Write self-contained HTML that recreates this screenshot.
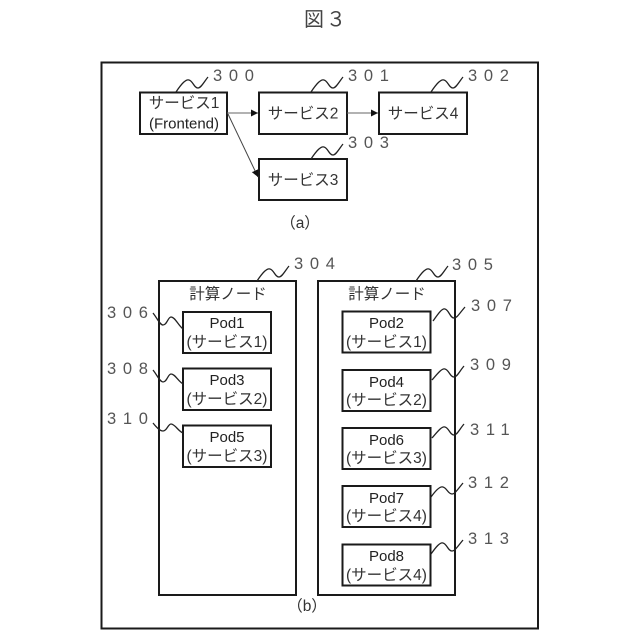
<!DOCTYPE html>
<html><head><meta charset="utf-8"><style>
html,body{margin:0;padding:0;background:#fff}
svg{display:block}
text{font-family:"Liberation Sans","Noto Sans CJK JP",sans-serif;fill:#333;text-anchor:middle}
.t{font-size:15.5px}
.l{font-size:15px;fill:#222}
.n{font-size:16.5px;fill:#555;text-anchor:start;letter-spacing:6.7px}
rect{fill:none;stroke:#1a1a1a;stroke-width:2}
.s{fill:none;stroke:#222;stroke-width:1.3}
</style></head><body>
<svg width="640" height="640" viewBox="0 0 640 640" xmlns="http://www.w3.org/2000/svg">
<defs><marker id="a" markerUnits="userSpaceOnUse" markerWidth="8" markerHeight="8" refX="7" refY="3.5" orient="auto"><path d="M0,0L7,3.5L0,7z" fill="#111"/></marker></defs>
<text x="326" y="26" font-size="20" style="letter-spacing:2px;fill:#444">図３</text>
<rect x="101.5" y="62.5" width="436.5" height="566"/>

<rect x="140" y="92.5" width="87" height="41.5"/>
<rect x="259" y="92.5" width="88" height="41.5"/>
<rect x="379" y="92.5" width="88" height="41.5"/>
<rect x="259" y="159" width="88" height="41"/>

<text class="t" x="184" y="108">サービス1</text>
<text class="l" x="184" y="128.5">(Frontend)</text>
<text class="t" x="303" y="118.5">サービス2</text>
<text class="t" x="423" y="118.5">サービス4</text>
<text class="t" x="303" y="185">サービス3</text>
<text class="t" x="300" y="228">（a）</text>

<path d="M227 113H258" stroke="#666" stroke-width="1" fill="none" marker-end="url(#a)"/>
<path d="M347 113H378" stroke="#666" stroke-width="1" fill="none" marker-end="url(#a)"/>
<path d="M228 114L258 177" stroke="#444" stroke-width="1" fill="none" marker-end="url(#a)"/>

<path class="s" d="M176 92C182 83 186 79 189 80C193 81 194 88 198 88C201 88 204 82 208 77"/>
<path class="s" d="M311 92C317 83 321 79 324 80C328 81 329 88 333 88C336 88 339 82 343 77"/>
<path class="s" d="M431 92C437 83 441 79 444 80C448 81 449 88 453 88C456 88 459 82 463 77"/>
<path class="s" d="M311 159C317 150 321 146 324 147C328 148 329 155 333 155C336 155 339 149 343 144"/>
<text class="n" x="213" y="81">300</text>
<text class="n" x="348" y="81">301</text>
<text class="n" x="468" y="81">302</text>
<text class="n" x="348" y="148">303</text>

<rect x="159" y="281" width="137" height="314"/>
<rect x="318" y="281" width="137" height="314"/>
<text class="t" x="228" y="299">計算ノード</text>
<text class="t" x="387" y="299">計算ノード</text>
<path class="s" d="M257 281C263 272 267 268 270 269C274 270 275 277 279 277C282 277 285 271 289 266"/>
<path class="s" d="M416 281C422 272 426 268 429 269C433 270 434 277 438 277C441 277 444 271 448 266"/>
<text class="n" x="294" y="269">304</text>
<text class="n" x="452" y="270">305</text>

<rect x="183" y="312" width="88" height="41"/>
<rect x="183" y="368.5" width="88" height="41.5"/>
<rect x="183" y="425.5" width="88" height="41.5"/>
<text class="l" x="227" y="328">Pod1</text><text class="t" x="227" y="347">(サービス1)</text>
<text class="l" x="227" y="385">Pod3</text><text class="t" x="227" y="404">(サービス2)</text>
<text class="l" x="227" y="442">Pod5</text><text class="t" x="227" y="461">(サービス3)</text>

<rect x="342.5" y="311.5" width="88" height="41"/>
<rect x="342.5" y="370" width="88" height="41"/>
<rect x="342.5" y="428" width="88" height="41"/>
<rect x="342.5" y="486" width="88" height="41"/>
<rect x="342.5" y="544.5" width="88" height="41"/>
<text class="l" x="386.5" y="328">Pod2</text><text class="t" x="386.5" y="347">(サービス1)</text>
<text class="l" x="386.5" y="387">Pod4</text><text class="t" x="386.5" y="405">(サービス2)</text>
<text class="l" x="386.5" y="445">Pod6</text><text class="t" x="386.5" y="463">(サービス3)</text>
<text class="l" x="386.5" y="503">Pod7</text><text class="t" x="386.5" y="521">(サービス4)</text>
<text class="l" x="386.5" y="561">Pod8</text><text class="t" x="386.5" y="580">(サービス4)</text>
<text class="t" x="307" y="611">（b）</text>

<path class="s" d="M153 313C157 318 160 325 163 325C167 325 168 317 171 317C175 317 178 325 183 329"/>
<path class="s" d="M153 370C157 375 160 382 163 382C167 382 168 374 171 374C175 374 178 381 183 384"/>
<path class="s" d="M153 423C157 428 160 431 163 431C167 431 168 424 171 424C175 424 178 431 183 433"/>
<text class="n" x="107" y="318">306</text>
<text class="n" x="107" y="374">308</text>
<text class="n" x="107" y="424">310</text>

<path class="s" d="M433 321C438 314 442 308 445 309C449 310 450 318 454 318C457 318 459 314 465 307"/>
<path class="s" d="M432 380C438 373 442 368 445 369C449 370 450 377 454 377C457 377 459 372 464 366"/>
<path class="s" d="M432 438C438 431 442 426 445 427C449 428 450 435 454 435C457 435 459 430 464 424"/>
<path class="s" d="M431 497C436 490 440 486 443 487C447 488 448 494 452 494C455 494 458 489 463 483"/>
<path class="s" d="M431 554C436 547 440 542 443 543C447 544 448 551 452 551C455 551 458 546 463 540"/>
<text class="n" x="471" y="311">307</text>
<text class="n" x="470" y="370">309</text>
<text class="n" x="470" y="435">311</text>
<text class="n" x="468" y="488">312</text>
<text class="n" x="468" y="544">313</text>
</svg>
</body></html>
